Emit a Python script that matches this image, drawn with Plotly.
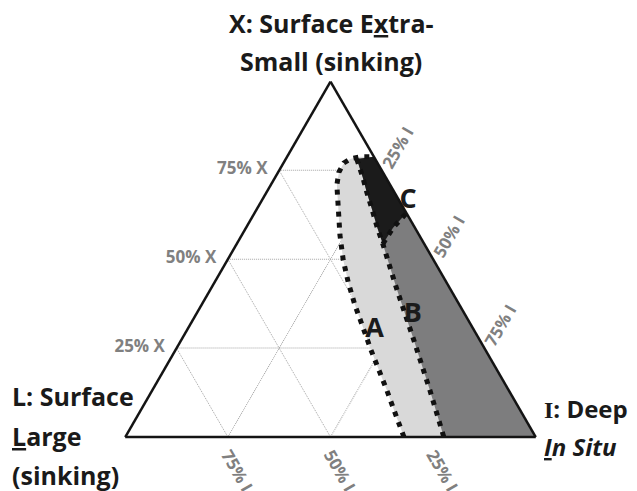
import plotly.graph_objects as go

# ---- axis ticks (ternary: a = X top, b = L bottom-left, c = I bottom-right)
tick_vals = [0.25, 0.5, 0.75]
x_tick_text = ["25% X", "50% X", "75% X"]
l_tick_text = ["25% L", "50% L", "75% L"]
i_tick_text = ["25% I", "50% I", "75% I"]

# ---- outer dotted boundary of zone A (bottom -> top)
a_line_X = [0.000, 0.062, 0.132, 0.188, 0.245, 0.307, 0.371, 0.436, 0.498, 0.568, 0.653, 0.709, 0.745, 0.771, 0.783, 0.788, 0.788]
a_line_L = [0.321, 0.310, 0.297, 0.288, 0.279, 0.267, 0.255, 0.239, 0.220, 0.193, 0.155, 0.130, 0.107, 0.082, 0.059, 0.034, 0.005]
a_line_I = [0.679, 0.628, 0.571, 0.524, 0.476, 0.426, 0.374, 0.325, 0.282, 0.239, 0.192, 0.161, 0.148, 0.147, 0.158, 0.178, 0.207]

# ---- dotted boundary B (top -> bottom)
b_line_X = [0.782, 0.731, 0.686, 0.639, 0.591, 0.543, 0.414, 0.281, 0.132, 0.000]
b_line_L = [0.045, 0.056, 0.068, 0.079, 0.091, 0.101, 0.131, 0.159, 0.192, 0.224]
b_line_I = [0.173, 0.213, 0.246, 0.282, 0.318, 0.356, 0.455, 0.560, 0.676, 0.776]

# ---- dotted lower boundary of zone C
c_line_X = [0.543, 0.588, 0.630]
c_line_L = [0.101, 0.054, 0.000]
c_line_I = [0.356, 0.358, 0.370]

# ---- right-edge corners used to close the zones
edge_top_XLI = [0.788, 0.000, 0.212]
vertex_I_XLI = [0.000, 0.000, 1.000]

# ---- zone labels (A, B inside; C anchored on the right edge)
zone_names = ["A", "B"]
zone_X = [0.300, 0.343]
zone_L = [0.2425, 0.128]
zone_I = [0.4575, 0.529]
c_label_X, c_label_L, c_label_I = [0.664], [0.0], [0.336]

LIGHT = "#d9d9d9"
DARK = "#7d7d7e"
BLACK = "#1b1b1b"
TICK_GREY = "#808080"
FONT = "Open Sans"

fig = go.Figure()

# zone A (light grey): A line + right edge
fig.add_trace(go.Scatterternary(
    a=a_line_X + [edge_top_XLI[0], vertex_I_XLI[0]],
    b=a_line_L + [edge_top_XLI[1], vertex_I_XLI[1]],
    c=a_line_I + [edge_top_XLI[2], vertex_I_XLI[2]],
    mode="lines", fill="toself", fillcolor=LIGHT, line=dict(width=0, color=LIGHT),
    hoverinfo="skip"))

# zone B (dark grey): B line + right edge
fig.add_trace(go.Scatterternary(
    a=b_line_X + [vertex_I_XLI[0], edge_top_XLI[0]],
    b=b_line_L + [vertex_I_XLI[1], edge_top_XLI[1]],
    c=b_line_I + [vertex_I_XLI[2], edge_top_XLI[2]],
    mode="lines", fill="toself", fillcolor=DARK, line=dict(width=0, color=DARK),
    hoverinfo="skip"))

# zone C (black)
fig.add_trace(go.Scatterternary(
    a=b_line_X[:6] + c_line_X[1:] + [edge_top_XLI[0]],
    b=b_line_L[:6] + c_line_L[1:] + [edge_top_XLI[1]],
    c=b_line_I[:6] + c_line_I[1:] + [edge_top_XLI[2]],
    mode="lines", fill="toself", fillcolor=BLACK, line=dict(width=0, color=BLACK),
    hoverinfo="skip"))

dot_line = dict(color="#111111", width=5, dash="5px,6px")
for xs, ls, is_ in [(a_line_X, a_line_L, a_line_I),
                    (b_line_X, b_line_L, b_line_I),
                    (c_line_X, c_line_L, c_line_I)]:
    fig.add_trace(go.Scatterternary(a=xs, b=ls, c=is_, mode="lines",
                                    line=dot_line, hoverinfo="skip"))

label_font = dict(family=FONT, size=27, color=BLACK, weight="bold")
fig.add_trace(go.Scatterternary(
    a=zone_X, b=zone_L, c=zone_I, mode="text", text=zone_names,
    textfont=label_font, cliponaxis=False, hoverinfo="skip"))
fig.add_trace(go.Scatterternary(
    a=c_label_X, b=c_label_L, c=c_label_I, mode="text", text=["C"],
    textposition="middle right", textfont=label_font,
    cliponaxis=False, hoverinfo="skip"))


def axis_style(ticktext, angle, ticklen=0):
    d = dict(
        tickmode="array", tickvals=tick_vals, ticktext=ticktext,
        showline=True, linecolor="#141414", linewidth=2.5,
        showgrid=True, gridcolor="#a4a4a4", gridwidth=1, griddash="1px,1px",
        ticks="", tickangle=angle,
        tickfont=dict(family=FONT, size=17, color=TICK_GREY, weight="bold"),
        title=dict(text=""))
    if ticklen:
        d.update(ticks="outside", ticklen=ticklen, tickcolor="rgba(0,0,0,0)")
    return d


W, H = 637, 491


def ann(text, px, py, size, xanchor="center"):
    return dict(text=text, x=px / W, y=1 - py / H, xref="paper", yref="paper",
                xanchor=xanchor, yanchor="middle", showarrow=False,
                font=dict(family=FONT, size=size, color="#1a1a1a", weight="bold"))


annotations = [
    ann("X: Surface E<u>x</u>tra-", 331, 23, 25),
    ann("Small (sinking)", 331, 61, 25),
    ann("L: Surface", 10, 396, 25, "left"),
    ann("<u>L</u>arge", 10, 436, 25, "left"),
    ann("(sinking)", 10, 475, 25, "left"),
    ann('<span style="font-family:Liberation Serif">I</span>: Deep', 542, 408, 24, "left"),
    ann("<i><u>I</u>n Situ</i>", 542, 446, 24, "left"),
]

fig.update_layout(
    width=W, height=H, margin=dict(l=0, r=0, t=0, b=0),
    paper_bgcolor="white", plot_bgcolor="white", showlegend=False,
    ternary=dict(
        sum=1, bgcolor="white",
        domain=dict(x=[125 / W, 536 / W], y=[1 - 437 / H, 1 - 81.5 / H]),
        aaxis=axis_style(x_tick_text, 0, ticklen=8),
        baxis=axis_style(l_tick_text, 60),
        caxis=axis_style(i_tick_text, -60),
    ),
    annotations=annotations,
)

fig.write_html("out.html", config={"displayModeBar": False},
               post_script="document.body.style.margin='0';document.body.style.overflow='hidden';")
